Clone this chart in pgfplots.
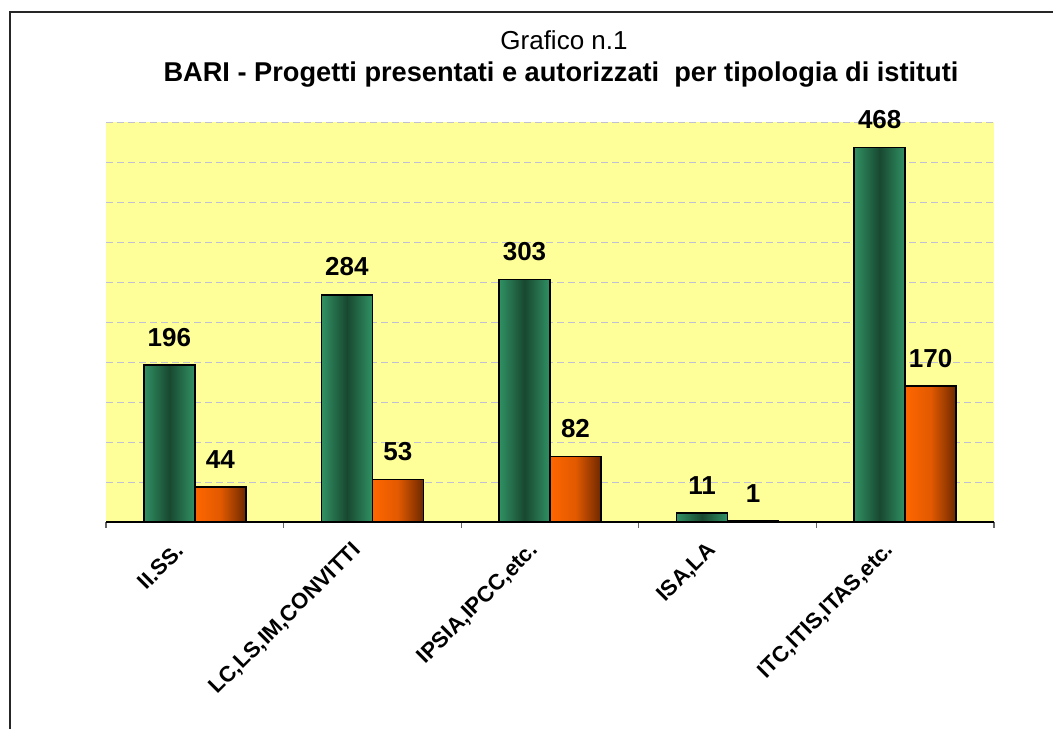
\documentclass[border=0pt]{standalone}
\usepackage{pgfplots}
\pgfplotsset{compat=1.18}
\usepackage{fontspec}
\setmainfont{Liberation Sans}

\definecolor{bgyellow}{RGB}{255,255,153}
\definecolor{gridcol}{RGB}{192,192,210}
\definecolor{greenedge}{RGB}{48,145,100}
\definecolor{greenmid}{RGB}{24,72,48}
\definecolor{orangeL}{RGB}{255,102,0}
\definecolor{orangeR}{RGB}{110,40,0}

% one path per bar, so that each bar gets its own shading
\pgfplotsset{
  gbar/.style={draw=black, line width=0.75pt, bar shift=-0.1435,
    left color=greenedge, right color=greenedge, middle color=greenmid},
  obar/.style={draw=black, line width=0.75pt, bar shift=0.1435,
    left color=orangeL, right color=orangeR, middle color=orangeL!80!orangeR},
}

\begin{document}
\begin{tikzpicture}
% 1px of the reference = 0.5pt
\useasboundingbox (0,0) rectangle (526.5pt,364.5pt);
\draw[line width=1pt, black!85] (4.75pt,0) -- (4.75pt,358.5pt) -- (526.5pt,358.5pt);
\node[font=\fontsize{13}{15}\selectfont] at (282pt,344.5pt) {Grafico n.1};
\node[font=\fontsize{13.6}{16}\selectfont\bfseries] at (280.5pt,327pt)
  {BARI - Progetti presentati e autorizzati\ \ per tipologia di istituti};

\begin{axis}[
  at={(53pt,103.5pt)}, anchor=south west,
  scale only axis, width=444pt, height=200pt,
  ybar=0pt, bar width=0.287,
  xmin=-0.5, xmax=4.5, ymin=0, ymax=500,
  axis background/.style={fill=bgyellow},
  axis x line*=bottom, axis y line*=left,
  x axis line style={-, black, line width=0.9pt},
  y axis line style={draw=none},
  xtick={0,1,2,3,4},
  xticklabels={II.SS., {LC,LS,IM,CONVITTI}, {IPSIA,IPCC,etc.}, {ISA,LA}, {ITC,ITIS,ITAS,etc.}},
  minor xtick={-0.5,0.5,1.5,2.5,3.5,4.5},
  major tick length=0pt, minor tick length=3pt,
  tick align=outside,
  minor tick style={black!60, line width=0.6pt},
  xticklabel shift=12.5pt,
  xticklabel style={xshift=-7.5pt, rotate=45, anchor=east, inner sep=0pt,
    font=\fontsize{11}{13}\selectfont\bfseries},
  ytick={50,100,...,500}, yticklabels={},
  y tick style={draw=none},
  ymajorgrids,
  major grid style={gridcol, dash pattern=on 3.5pt off 2pt, line width=0.5pt},
  /pgf/number format/assume math mode=true,
  nodes near coords,
  nodes near coords style={text=black, inner sep=0pt, anchor=south, yshift=9pt,
    font=\fontsize{13}{15}\selectfont\bfseries},
]
% Progetti presentati
\addplot[gbar] coordinates {(0,196)};
\addplot[gbar] coordinates {(1,284)};
\addplot[gbar] coordinates {(2,303)};
\addplot[gbar] coordinates {(3,11)};
\addplot[gbar] coordinates {(4,468)};
% Progetti autorizzati
\addplot[obar] coordinates {(0,44)};
\addplot[obar] coordinates {(1,53)};
\addplot[obar] coordinates {(2,82)};
\addplot[obar] coordinates {(3,1)};
\addplot[obar] coordinates {(4,170)};
\end{axis}
\end{tikzpicture}
\end{document}
